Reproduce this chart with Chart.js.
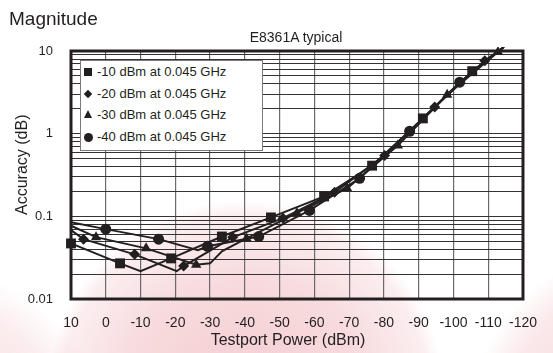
<!DOCTYPE html>
<html>
<head>
<meta charset="utf-8">
<script src="https://cdn.jsdelivr.net/npm/chart.js@4.4.1/dist/chart.umd.min.js"></script>
<style>
  html, body { margin: 0; padding: 0; }
  body {
    width: 553px; height: 353px; position: relative; overflow: hidden;
    font-family: "Liberation Sans", Arial, sans-serif; color: #231f20;
    background:
      radial-gradient(circle at 245px 400px, rgba(222,105,115,0.34) 0, rgba(228,125,135,0.28) 120px, rgba(236,160,168,0.18) 185px, rgba(255,255,255,0) 200px),
      radial-gradient(circle at 640px 420px, rgba(222,105,115,0.32) 0, rgba(232,140,150,0.2) 135px, rgba(255,255,255,0) 170px),
      radial-gradient(circle at -60px 430px, rgba(222,105,115,0.28) 0, rgba(232,140,150,0.16) 120px, rgba(255,255,255,0) 160px),
      #fff;
  }
  #chart { position: absolute; left: 0; top: 0; }
  .txt { position: absolute; white-space: nowrap; }
  #head { left: 9px; top: 8px; font-size: 19px; }
  #sub { left: 196px; width: 200px; top: 29px; font-size: 14px; text-align: center; }
  #xtitle { left: 188px; width: 200px; top: 331px; font-size: 16px; text-align: center; }
  #ytitle { left: -28px; top: 156px; width: 100px; font-size: 16px; text-align: center; transform: rotate(-90deg); }
  #legend {
    position: absolute; left: 80px; top: 60px; width: 181px; height: 89px;
    background: #fff; border: 1.5px solid #7a7a7a;
  }
  .row { position: absolute; left: 0; height: 20px; font-size: 13px; line-height: 20px; }
  .row span.t { position: absolute; left: 16px; top: 0; white-space: nowrap; }
  .mk { position: absolute; background: #231f20; }
  .sq { left: 3px; top: 6px; width: 8px; height: 8px; }
  .di { left: 4px; top: 7px; width: 6px; height: 6px; transform: rotate(45deg); }
  .tr { left: 3px; top: 5px; width: 0; height: 0; background: none; border-left: 4px solid transparent; border-right: 4px solid transparent; border-bottom: 8px solid #231f20; }
  .ci { left: 3px; top: 6px; width: 9px; height: 9px; border-radius: 50%; }
</style>
</head>
<body>
<canvas id="chart" width="553" height="353"></canvas>
<div class="txt" id="head">Magnitude</div>
<div class="txt" id="sub">E8361A typical</div>
<div class="txt" id="xtitle">Testport Power (dBm)</div>
<div class="txt" id="ytitle">Accuracy (dB)</div>
<div id="legend"></div>
<script>
// series labels
const seriesNames = ["-10 dBm at 0.045 GHz", "-20 dBm at 0.045 GHz", "-30 dBm at 0.045 GHz", "-40 dBm at 0.045 GHz"];

// -10 dBm (squares); mark = 1 where a symbol is drawn
const sqPower = [10, -4.1, -10, -18.8, -33.4, -47.5, -62.8, -76.6, -91.2, -105.4, -114.5];
const sqAcc   = [0.047, 0.027, 0.0217, 0.031, 0.057, 0.097, 0.174, 0.41, 1.53, 5.7, 11.2];
const sqMark  = [1, 1, 0, 1, 1, 1, 1, 1, 1, 1, 0];

// -20 dBm (diamonds)
const diPower = [10, 6.4, -8.3, -20.4, -22.4, -36.5, -51, -65.8, -80.2, -94.6, -109, -114.5];
const diAcc   = [0.068, 0.053, 0.0347, 0.0217, 0.025, 0.0557, 0.095, 0.195, 0.546, 2.1, 7.6, 11.2];
const diMark  = [0, 1, 1, 0, 1, 1, 1, 1, 1, 1, 1, 0];

// -30 dBm (triangles)
const trPower = [10, 2.8, -11.6, -26, -30, -33.5, -40.5, -55, -69.4, -84, -98.2, -112.8, -114.5];
const trAcc   = [0.077, 0.056, 0.041, 0.026, 0.027, 0.038, 0.054, 0.11, 0.218, 0.72, 2.95, 9.7, 11.2];
const trMark  = [0, 1, 1, 1, 0, 0, 1, 1, 1, 1, 1, 1, 0];

// -40 dBm (circles)
const ciPower = [10, 0, -15.2, -26.5, -29.3, -44, -58.6, -73, -87.4, -101.8, -114.5];
const ciAcc   = [0.085, 0.07, 0.053, 0.039, 0.0434, 0.057, 0.118, 0.288, 1.07, 4.2, 11.2];
const ciMark  = [0, 1, 1, 0, 1, 1, 1, 1, 1, 1, 0];

// axes
const yDecades = [0.01, 0.1, 1, 10];
const xMin = -120, xMax = 10, xStep = 10;

const ink = "#231f20";
const styles = ["rect", "rectRot", "triangle", "circle"];
const sizes = [7, 5.5, 6, 5.5];
const legendCls = ["sq", "di", "tr", "ci"];

function makeSet(i, power, acc, mark) {
  return {
    label: seriesNames[i],
    data: power.map((p, k) => ({ x: p, y: acc[k] })),
    borderColor: ink,
    backgroundColor: ink,
    borderWidth: 2,
    pointStyle: styles[i],
    pointRadius: mark.map(m => m ? sizes[i] : 0),
    pointBorderWidth: 0,
    pointHoverRadius: 0,
    tension: 0,
    clip: { left: 8, top: 4, right: 0, bottom: 0 },
  };
}

// y grid: 1..9 per decade
const yGrid = [];
yDecades.forEach((d, i) => {
  if (i === yDecades.length - 1) { yGrid.push(d); return; }
  for (let m = 1; m < 10; m++) yGrid.push(+(d * m).toPrecision(3));
});

// frame round the plot
const frame = {
  id: "frame",
  afterDatasetsDraw(chart) {
    const a = chart.chartArea, ctx = chart.ctx;
    ctx.save();
    ctx.strokeStyle = ink;
    ctx.lineWidth = 3;
    ctx.strokeRect(a.left, a.top, a.right - a.left, a.bottom - a.top);
    ctx.restore();
  }
};

new Chart(document.getElementById("chart"), {
  type: "line",
  data: {
    datasets: [
      makeSet(0, sqPower, sqAcc, sqMark),
      makeSet(1, diPower, diAcc, diMark),
      makeSet(2, trPower, trAcc, trMark),
      makeSet(3, ciPower, ciAcc, ciMark),
    ],
  },
  options: {
    responsive: false,
    animation: false,
    events: [],
    layout: { padding: { left: 10, top: 51, right: 12, bottom: 0 } },
    plugins: { legend: { display: false }, tooltip: { enabled: false } },
    scales: {
      x: {
        type: "linear",
        reverse: true,
        min: xMin,
        max: xMax,
        afterFit: s => { s.height = 54; },
        ticks: {
          stepSize: xStep,
          autoSkip: false,
          maxRotation: 0,
          padding: 16,
          color: ink,
          font: { family: "Liberation Sans", size: 14 },
          callback: v => String(v),
        },
        grid: { color: "#6a6a6a", lineWidth: 1.2, drawTicks: false },
        border: { display: false },
      },
      y: {
        type: "logarithmic",
        min: yDecades[0],
        max: yDecades[yDecades.length - 1],
        afterFit: s => { s.width = 61; },
        afterBuildTicks: s => { s.ticks = yGrid.map(v => ({ value: v })); },
        ticks: {
          autoSkip: false,
          padding: 18,
          color: ink,
          font: { family: "Liberation Sans", size: 13 },
          callback: v => yDecades.includes(v) ? String(v) : "",
        },
        grid: { color: "#333", lineWidth: 1, drawTicks: false },
        border: { display: false },
      },
    },
  },
  plugins: [frame],
});

// legend box inside the plot
const legend = document.getElementById("legend");
seriesNames.forEach((name, i) => {
  const row = document.createElement("div");
  row.className = "row";
  row.style.top = (1 + i * 21.7) + "px";
  row.innerHTML = '<span class="mk ' + legendCls[i] + '"></span><span class="t">' + name + "</span>";
  legend.appendChild(row);
});
</script>
</body>
</html>
